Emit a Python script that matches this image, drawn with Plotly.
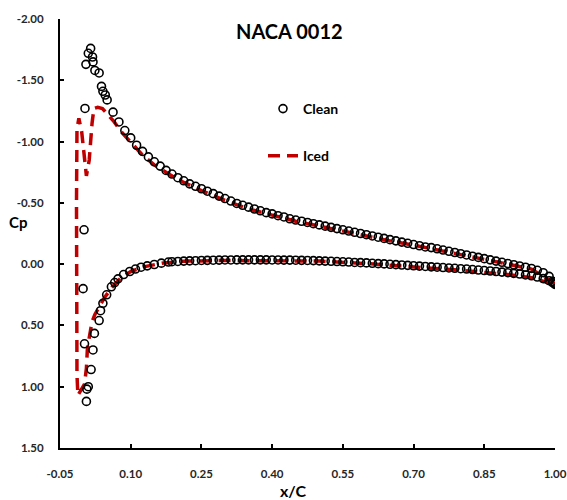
import plotly.graph_objects as go

# ---------------- data ----------------
clean_upper_x = [-0.001, 0.001, 0.003, 0.005, 0.010, 0.015, 0.019, 0.020, 0.024, 0.033,
                 0.038, 0.041, 0.046, 0.050, 0.0625, 0.075, 0.0875, 0.100, 0.1125, 0.125,
                 0.1375, 0.150, 0.1625, 0.175, 0.1875, 0.200, 0.2125, 0.225, 0.2375, 0.250,
                 0.2625, 0.275, 0.2875, 0.300, 0.3125, 0.325, 0.3375, 0.350, 0.3625, 0.375,
                 0.3875, 0.400, 0.4125, 0.425, 0.4375, 0.450, 0.4625, 0.475, 0.4875, 0.500,
                 0.5125, 0.525, 0.5375, 0.550, 0.5625, 0.575, 0.5875, 0.600, 0.6125, 0.625,
                 0.6375, 0.650, 0.6625, 0.675, 0.6875, 0.700, 0.7125, 0.725, 0.7375, 0.750,
                 0.7625, 0.775, 0.7875, 0.800, 0.8125, 0.825, 0.8375, 0.850, 0.8625, 0.875,
                 0.8875, 0.900, 0.9125, 0.925, 0.9375, 0.950, 0.9625, 0.975, 0.9875, 0.995, 1.000]
clean_upper_cp = [0.20, -0.28, -1.27, -1.63, -1.72, -1.76, -1.69, -1.65, -1.58, -1.56,
                  -1.45, -1.41, -1.38, -1.34, -1.24, -1.16, -1.09, -1.03, -0.97, -0.92,
                  -0.875, -0.835, -0.80, -0.765, -0.735, -0.705, -0.68, -0.655, -0.635, -0.615,
                  -0.595, -0.575, -0.555, -0.535, -0.515, -0.495, -0.48, -0.465, -0.45, -0.435,
                  -0.42, -0.41, -0.395, -0.385, -0.37, -0.36, -0.35, -0.34, -0.33, -0.32,
                  -0.31, -0.30, -0.29, -0.28, -0.27, -0.26, -0.25, -0.24, -0.23, -0.22,
                  -0.21, -0.20, -0.19, -0.18, -0.17, -0.16, -0.15, -0.14, -0.135, -0.125,
                  -0.115, -0.105, -0.095, -0.085, -0.075, -0.065, -0.055, -0.045, -0.035, -0.025,
                  -0.015, -0.005, 0.005, 0.015, 0.025, 0.035, 0.05, 0.07, 0.10, 0.14, 0.16]

clean_lower_x = [0.006, 0.007, 0.010, 0.016, 0.020, 0.002, 0.023, 0.033, 0.036, 0.041,
                 0.049, 0.059, 0.066, 0.073, 0.085, 0.098, 0.110, 0.122, 0.135, 0.150,
                 0.165, 0.180, 0.1875, 0.200, 0.2125, 0.225, 0.2375, 0.250, 0.2625, 0.275,
                 0.2875, 0.300, 0.3125, 0.325, 0.3375, 0.350, 0.3625, 0.375, 0.3875, 0.400,
                 0.4125, 0.425, 0.4375, 0.450, 0.4625, 0.475, 0.4875, 0.500, 0.5125, 0.525,
                 0.5375, 0.550, 0.5625, 0.575, 0.5875, 0.600, 0.6125, 0.625, 0.6375, 0.650,
                 0.6625, 0.675, 0.6875, 0.700, 0.7125, 0.725, 0.7375, 0.750, 0.7625, 0.775,
                 0.7875, 0.800, 0.8125, 0.825, 0.8375, 0.850, 0.8625, 0.875, 0.8875, 0.900,
                 0.9125, 0.925, 0.9375, 0.950, 0.9625, 0.975, 0.9875, 0.995, 1.000]
clean_lower_cp = [1.12, 1.02, 1.00, 0.86, 0.70, 0.65, 0.565, 0.46, 0.38, 0.32,
                  0.25, 0.185, 0.15, 0.12, 0.085, 0.06, 0.04, 0.025, 0.014, 0.003,
                  -0.008, -0.017, -0.02, -0.022, -0.025, -0.027, -0.028, -0.03, -0.031, -0.032,
                  -0.033, -0.034, -0.034, -0.035, -0.035, -0.035, -0.035, -0.035, -0.035, -0.034,
                  -0.034, -0.033, -0.033, -0.032, -0.031, -0.03, -0.029, -0.027, -0.025, -0.023,
                  -0.021, -0.019, -0.017, -0.014, -0.012, -0.01, -0.007, -0.004, -0.002, 0.001,
                  0.004, 0.007, 0.01, 0.013, 0.016, 0.019, 0.022, 0.025, 0.028, 0.031,
                  0.034, 0.037, 0.04, 0.044, 0.048, 0.052, 0.056, 0.06, 0.065, 0.07,
                  0.075, 0.081, 0.088, 0.095, 0.105, 0.118, 0.135, 0.15, 0.165]

iced_x = [1.000, 0.950, 0.900, 0.850, 0.800, 0.750, 0.700, 0.650, 0.600, 0.550,
          0.500, 0.450, 0.400, 0.350, 0.300, 0.250, 0.200, 0.150, 0.125, 0.100,
          0.080, 0.065, 0.050, 0.040, 0.030, 0.022, 0.018, 0.015, 0.012, 0.006,
          0.002, -0.004, -0.010, -0.014, -0.015, -0.015, -0.015, -0.014, -0.012, -0.006,
          0.002, 0.006, 0.008, 0.012, 0.018, 0.024, 0.035, 0.045, 0.060, 0.080,
          0.100, 0.130, 0.170, 0.220, 0.300, 0.400, 0.500, 0.600, 0.700, 0.800,
          0.900, 0.950, 1.000]
iced_cp = [0.16, 0.04, 0.0, -0.04, -0.08, -0.12, -0.155, -0.19, -0.23, -0.27,
           -0.31, -0.35, -0.40, -0.45, -0.52, -0.60, -0.69, -0.81, -0.89, -0.99,
           -1.08, -1.16, -1.22, -1.27, -1.28, -1.27, -1.15, -1.0, -0.85, -0.72,
           -0.85, -1.08, -1.19, -1.10, -0.5, 0.0, 0.5, 0.9, 1.07, 1.03,
           0.98, 0.85, 0.70, 0.60, 0.47, 0.41, 0.34, 0.27, 0.19, 0.11,
           0.06, 0.02, -0.01, -0.025, -0.03, -0.03, -0.025, -0.005, 0.02, 0.05,
           0.085, 0.11, 0.17]

x_ticks = [-0.05, 0.10, 0.25, 0.40, 0.55, 0.70, 0.85, 1.00]
y_ticks = [-2.0, -1.5, -1.0, -0.5, 0.0, 0.5, 1.0, 1.5]

# ---------------- figure ----------------
FONT = "Lato"
TICKCOL = "#262626"
RED = "#C00000"

FIG_W, FIG_H = 567, 500
# plot area in window pixels: x 60..555, y 19..448
L = 60
R = FIG_W - 555
T = 19
B = FIG_H - 448
PW = FIG_W - L - R
PH = FIG_H - T - B


def px_x(p):
    return (p - L) / PW


def px_y(p):
    return (FIG_H - B - p) / PH


fig = go.Figure()

fig.add_trace(go.Scatter(
    x=iced_x, y=iced_cp, mode="lines", name="Iced",
    line=dict(color=RED, width=3.5, dash="12px,7px"),
    legendgroup="b", legendrank=2,
))
fig.add_trace(go.Scatter(
    x=clean_upper_x + clean_lower_x, y=clean_upper_cp + clean_lower_cp,
    mode="markers", name="Clean",
    marker=dict(symbol="circle-open", size=8, color="black", line=dict(width=1.6, color="black")),
    legendgroup="a", legendrank=1,
))

fig.update_layout(
    template="none",
    width=FIG_W, height=FIG_H,
    margin=dict(l=L, r=R, t=T, b=B, autoexpand=False),
    paper_bgcolor="white", plot_bgcolor="white",
    font=dict(family=FONT, color=TICKCOL),
    showlegend=True,
    legend=dict(x=px_x(263), y=px_y(93), xanchor="left", yanchor="top",
                bgcolor="rgba(0,0,0,0)", borderwidth=0, tracegroupgap=26,
                font=dict(family=FONT, size=14, color="black", weight="bold"),
                itemwidth=30),
    annotations=[
        dict(text="<b>NACA 0012</b>", xref="paper", yref="paper",
             x=px_x(289), y=px_y(31), xanchor="center", yanchor="middle",
             showarrow=False, font=dict(family=FONT, size=20, color="black")),
        dict(text="<b>Cp</b>", xref="paper", yref="paper",
             x=px_x(18), y=px_y(222), xanchor="center", yanchor="middle",
             showarrow=False, font=dict(family=FONT, size=15, color="black")),
        dict(text="<b>x/C</b>", xref="paper", yref="paper",
             x=px_x(293), y=px_y(490), xanchor="center", yanchor="middle",
             showarrow=False, font=dict(family=FONT, size=16, color="black")),
    ],
)

fig.update_xaxes(
    range=[-0.05, 1.0], tickvals=x_ticks, ticktext=[f"{v:.2f}" for v in x_ticks],
    showgrid=False, zeroline=False, showline=True, linecolor="black", linewidth=2,
    ticks="inside", ticklen=4, tickwidth=1.5, tickcolor="black", automargin=False,
    tickfont=dict(family=FONT, size=11.5, color=TICKCOL, weight="bold"),
    ticklabelstandoff=14, ticklabeloverflow="allow",
)
fig.update_yaxes(
    range=[1.5, -2.0], tickvals=y_ticks, ticktext=[f"{v:.2f}" for v in y_ticks],
    showgrid=False, zeroline=False, showline=True, linecolor="black", linewidth=2,
    ticks="inside", ticklen=4, tickwidth=1.5, tickcolor="black", automargin=False,
    tickfont=dict(family=FONT, size=11.5, color=TICKCOL, weight="bold"),
    ticklabelstandoff=12, ticklabeloverflow="allow",
)

fig.write_html(
    "out.html",
    config={"displayModeBar": False},
    post_script="document.body.style.margin='0';document.body.style.overflow='hidden';",
)
